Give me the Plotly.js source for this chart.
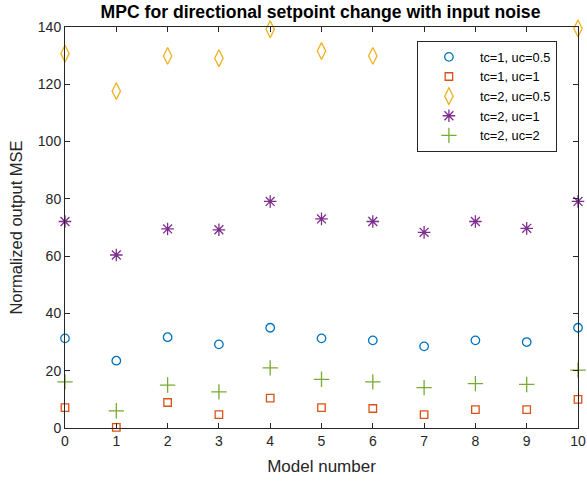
<!DOCTYPE html>
<html><head><meta charset="utf-8">
<script src="https://cdn.plot.ly/plotly-3.0.1.min.js"></script>
<style>html,body{margin:0;padding:0;background:#fff}#chart{width:587px;height:481px}</style>
</head><body><div id="chart"></div>
<script>
const models = [0,1,2,3,4,5,6,7,8,9,10];
const tc1_uc05 = [31.3,23.5,31.7,29.2,35.0,31.3,30.6,28.5,30.6,30.0,35.0];
const tc1_uc1  = [7.1,0.2,8.9,4.7,10.4,7.1,6.8,4.7,6.4,6.4,10.0];
const tc2_uc05 = [130.7,117.6,129.9,129.1,139.2,131.6,129.9,null,null,null,139.5];
const tc2_uc1  = [72.1,60.4,69.5,69.2,79.1,73.0,72.1,68.3,72.1,69.7,79.1];
const tc2_uc2  = [16.1,6.0,15.0,12.6,21.0,17.0,16.1,14.1,15.5,15.2,20.2];
const names = ['tc=1, uc=0.5','tc=1, uc=1','tc=2, uc=0.5','tc=2, uc=1','tc=2, uc=2'];
const xTicks = [0,1,2,3,4,5,6,7,8,9,10];
const yTicks = [0,20,40,60,80,100,120,140];

const FONT = 'Liberation Sans, Arial, sans-serif';
const mk = (y, name, symbol, color, size) => ({
  x: models, y: y, name: name, type: 'scatter', mode: 'markers', cliponaxis: false,
  marker: {symbol: symbol, color: color, size: size, line: {color: color, width: 1.3}}
});
const data = [
  mk(tc1_uc05, names[0], 'circle-open', '#0072BD', 8.5),
  mk(tc1_uc1, names[1], 'square-open', '#D95319', 7.5),
  mk(tc2_uc05, names[2], 'diamond-tall-open', '#EDB120', 12),
  mk(tc2_uc1, names[3], 'asterisk-open', '#7E2F8E', 10.5),
  mk(tc2_uc2, names[4], 'cross-thin-open', '#77AC30', 11)
];
const axisCommon = {
  showline: true, linecolor: '#262626', linewidth: 1, mirror: 'ticks',
  ticks: 'inside', ticklen: 5, tickcolor: '#262626', tickwidth: 1,
  showgrid: false, zeroline: false,
  tickfont: {family: FONT, size: 14, color: '#262626'}
};
const layout = {
  width: 587, height: 481,
  margin: {l: 65, r: 9, t: 27, b: 53},
  paper_bgcolor: '#fff', plot_bgcolor: '#fff',
  title: {text: '<b>MPC for directional setpoint change with input noise</b>',
    font: {family: FONT, size: 17.6, color: '#000'},
    x: 0.546, xanchor: 'center', y: 0.988, yanchor: 'top'},
  xaxis: Object.assign({}, axisCommon, {range: [0, 10], tickvals: xTicks,
    title: {text: 'Model number', standoff: 12, font: {family: FONT, size: 17, color: '#262626'}}}),
  yaxis: Object.assign({}, axisCommon, {range: [0, 140], tickvals: yTicks,
    title: {text: 'Normalized output MSE', standoff: 11, font: {family: FONT, size: 16.5, color: '#262626'}}}),
  showlegend: true,
  legend: {x: 0.686, y: 0.965, xanchor: 'left', yanchor: 'top',
    bordercolor: '#262626', borderwidth: 1, bgcolor: '#fff',
    itemwidth: 52, tracegroupgap: 0,
    font: {family: FONT, size: 12.8, color: '#000'}}
};
Plotly.newPlot('chart', data, layout, {displayModeBar: false, staticPlot: true});
</script></body></html>
